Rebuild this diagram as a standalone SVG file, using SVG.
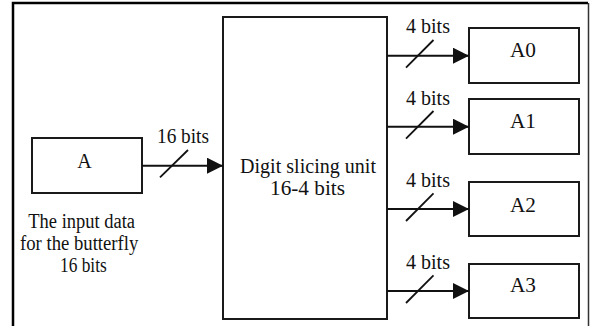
<svg xmlns="http://www.w3.org/2000/svg" width="591" height="326" viewBox="0 0 591 326">
  <style>
    .box { fill: #ffffff; stroke: #1a1a1a; stroke-width: 2; }
    .t { font-family: "Liberation Serif", "Times New Roman", serif; font-size: 20px; fill: #111111; }
    .wire { stroke: #111111; stroke-width: 2; fill: none; }
    .slash { stroke: #111111; stroke-width: 1.8; fill: none; }
  </style>
  <defs>
    <marker id="arrow" markerUnits="userSpaceOnUse" markerWidth="16" markerHeight="16" refX="16" refY="8" orient="auto">
      <path d="M0,0 L16,8 L0,16 Z" fill="#111111"/>
    </marker>
  </defs>
  <rect width="591" height="326" fill="#ffffff"/>
  <path d="M13,327 V3 H588" fill="none" stroke="#000000" stroke-width="2.5"/>
  <path d="M588.5,3 V327" fill="none" stroke="#333333" stroke-width="1.5"/>

  <g id="nodeA">
    <rect class="box" x="32" y="138" width="110" height="55"/>
    <text class="t" x="84.5" y="168.3" text-anchor="middle">A</text>
  </g>
  <g id="input-label">
    <text class="t" x="28.3" y="227.7" textLength="106.7" lengthAdjust="spacingAndGlyphs">The input data</text>
    <text class="t" x="20" y="250" textLength="118.3" lengthAdjust="spacingAndGlyphs">for the butterfly</text>
    <text class="t" x="60" y="271.7" textLength="46.7" lengthAdjust="spacingAndGlyphs">16 bits</text>
  </g>
  <g id="slicer">
    <rect class="box" x="223" y="17" width="164" height="302"/>
    <text class="t" x="240" y="173.3" textLength="136" lengthAdjust="spacingAndGlyphs">Digit slicing unit</text>
    <text class="t" x="270" y="195" textLength="75" lengthAdjust="spacingAndGlyphs">16-4 bits</text>
  </g>
  <g id="nodeA0">
    <rect class="box" x="469" y="28" width="110" height="55"/>
    <text class="t" x="510" y="57.3" textLength="26" lengthAdjust="spacingAndGlyphs">A0</text>
  </g>
  <g id="nodeA1">
    <rect class="box" x="469" y="99" width="110" height="55"/>
    <text class="t" x="510" y="128.3" textLength="26" lengthAdjust="spacingAndGlyphs">A1</text>
  </g>
  <g id="nodeA2">
    <rect class="box" x="469" y="182" width="110" height="54"/>
    <text class="t" x="510" y="211.7" textLength="26" lengthAdjust="spacingAndGlyphs">A2</text>
  </g>
  <g id="nodeA3">
    <rect class="box" x="469" y="264" width="110" height="54"/>
    <text class="t" x="510" y="291.7" textLength="26" lengthAdjust="spacingAndGlyphs">A3</text>
  </g>

  <g id="connectors">
    <line class="wire" x1="142" y1="165.7" x2="223" y2="165.7" marker-end="url(#arrow)"/>
    <line class="slash" x1="160" y1="177.3" x2="188" y2="150"/>
    <text class="t" x="157" y="143.3" textLength="52" lengthAdjust="spacingAndGlyphs">16 bits</text>

    <line class="wire" x1="387" y1="55.7" x2="469" y2="55.7" marker-end="url(#arrow)"/>
    <line class="slash" x1="406" y1="67.7" x2="433.5" y2="40"/>
    <text class="t" x="406" y="33.3" textLength="44" lengthAdjust="spacingAndGlyphs">4 bits</text>

    <line class="wire" x1="387" y1="126.7" x2="469" y2="126.7" marker-end="url(#arrow)"/>
    <line class="slash" x1="406" y1="138.7" x2="433.5" y2="111"/>
    <text class="t" x="406" y="104.5" textLength="44" lengthAdjust="spacingAndGlyphs">4 bits</text>

    <line class="wire" x1="387" y1="209" x2="469" y2="209" marker-end="url(#arrow)"/>
    <line class="slash" x1="406" y1="221" x2="433.5" y2="193.3"/>
    <text class="t" x="406" y="187" textLength="44" lengthAdjust="spacingAndGlyphs">4 bits</text>

    <line class="wire" x1="387" y1="291" x2="469" y2="291" marker-end="url(#arrow)"/>
    <line class="slash" x1="406" y1="303" x2="433.5" y2="275.3"/>
    <text class="t" x="406" y="268.8" textLength="44" lengthAdjust="spacingAndGlyphs">4 bits</text>
  </g>
</svg>
